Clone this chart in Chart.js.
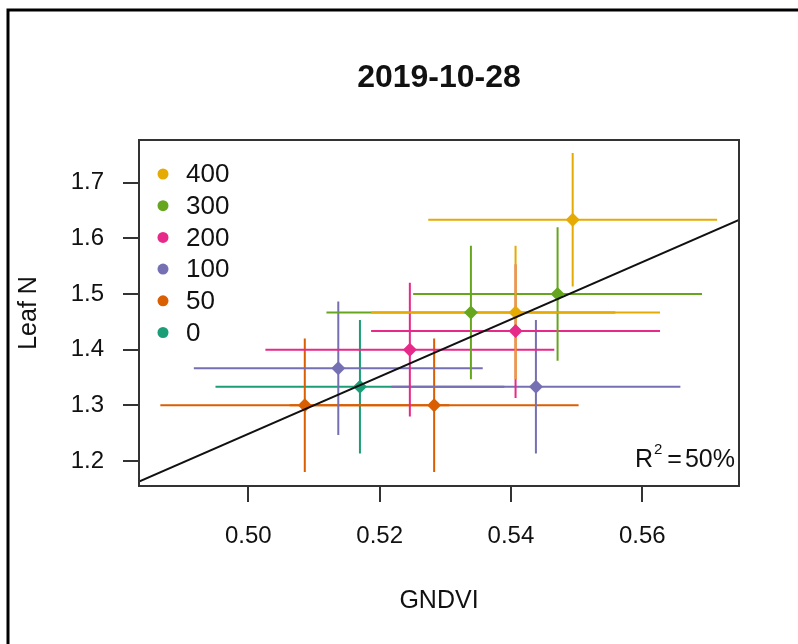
<!DOCTYPE html>
<html>
<head>
<meta charset="utf-8">
<script src="https://cdn.jsdelivr.net/npm/chart.js@4/dist/chart.umd.min.js"></script>
<style>
  body { margin: 0; background: #fff; }
  canvas { display: block; }
</style>
</head>
<body>
<canvas id="leafN" width="798" height="644"></canvas>
<script>
// nitrogen rate groups, in legend order (top to bottom)
var rates = ['400', '300', '200', '100', '50', '0'];
var colours = ['#E6AB02', '#66A61E', '#E7298A', '#7570B3', '#D95F02', '#1B9E77'];

// plot means per rate (GNDVI on x, leaf N on y)
var gndvi = [
  [0.5494, 0.5407],
  [0.5471, 0.5339],
  [0.5407, 0.5246],
  [0.5438, 0.5137],
  [0.5283, 0.5086],
  [0.5170]
];
var leafN = [
  [1.6333, 1.4667],
  [1.5000, 1.4667],
  [1.4333, 1.4000],
  [1.3333, 1.3667],
  [1.3000, 1.3000],
  [1.3333]
];
// half widths of the error bars
var gndviErr = [
  [0.022, 0.022],
  [0.022, 0.022],
  [0.022, 0.022],
  [0.022, 0.022],
  [0.022, 0.022],
  [0.022]
];
var leafNErr = [
  [0.12, 0.12],
  [0.12, 0.12],
  [0.12, 0.12],
  [0.12, 0.12],
  [0.12, 0.12],
  [0.12]
];

// fitted line, drawn across the whole x range
var fitX = [0.48335, 0.57473];
var fitY = [1.1628, 1.6330];
var r2Text = '50%';

var xTicks = [0.50, 0.52, 0.54, 0.56];
var yTicks = [1.2, 1.3, 1.4, 1.5, 1.6, 1.7];
var xRange = [0.48335, 0.57473];
var yRange = [1.155, 1.7767];

var FONT = '"Liberation Sans", Arial, sans-serif';
var INK = '#111';

var datasets = [{
  type: 'line',
  data: fitX.map(function (x, i) { return { x: x, y: fitY[i] }; }),
  borderColor: '#111',
  borderWidth: 2,
  pointRadius: 0,
  fill: false
}];
rates.forEach(function (r, g) {
  datasets.push({
    label: r,
    data: gndvi[g].map(function (x, i) { return { x: x, y: leafN[g][i] }; }),
    backgroundColor: colours[g],
    borderColor: colours[g],
    pointStyle: 'rectRot',
    pointRadius: 7,
    pointBorderWidth: 0
  });
});

// error bars go under the points, lowest rate first
var errorBars = {
  id: 'errorBars',
  beforeDatasetsDraw: function (chart) {
    var ctx = chart.ctx, xs = chart.scales.x, ys = chart.scales.y;
    var a = chart.chartArea;
    ctx.save();
    ctx.beginPath();
    ctx.rect(a.left, a.top, a.right - a.left, a.bottom - a.top);
    ctx.clip();
    ctx.lineWidth = 2;
    for (var g = rates.length - 1; g >= 0; g--) {
      ctx.strokeStyle = colours[g];
      for (var i = 0; i < gndvi[g].length; i++) {
        var x = gndvi[g][i], y = leafN[g][i];
        var px = xs.getPixelForValue(x), py = ys.getPixelForValue(y);
        ctx.beginPath();
        ctx.moveTo(xs.getPixelForValue(x - gndviErr[g][i]), py);
        ctx.lineTo(xs.getPixelForValue(x + gndviErr[g][i]), py);
        ctx.moveTo(px, ys.getPixelForValue(y - leafNErr[g][i]));
        ctx.lineTo(px, ys.getPixelForValue(y + leafNErr[g][i]));
        ctx.stroke();
      }
    }
    ctx.restore();
  }
};

// title, box, legend, R2 note and the outer frame
var decorations = {
  id: 'decorations',
  afterDraw: function (chart) {
    var ctx = chart.ctx, a = chart.chartArea;
    ctx.save();

    ctx.strokeStyle = '#000';
    ctx.lineWidth = 3;
    ctx.beginPath();
    ctx.moveTo(8, chart.height);
    ctx.lineTo(8, 10);
    ctx.lineTo(chart.width, 10);
    ctx.stroke();

    ctx.strokeStyle = '#333';
    ctx.lineWidth = 2;
    ctx.strokeRect(a.left, a.top, a.right - a.left, a.bottom - a.top);

    ctx.fillStyle = INK;
    ctx.font = 'bold 32px ' + FONT;
    ctx.textAlign = 'center';
    ctx.textBaseline = 'middle';
    ctx.fillText('2019-10-28', (a.left + a.right) / 2, 78);

    ctx.font = '26px ' + FONT;
    ctx.textAlign = 'left';
    rates.forEach(function (r, g) {
      var y = 174 + g * 31.7;
      ctx.fillStyle = colours[g];
      ctx.beginPath();
      ctx.arc(163, y, 5.5, 0, Math.PI * 2);
      ctx.fill();
      ctx.fillStyle = INK;
      ctx.fillText(r, 186, y + 1);
    });

    // R² = 50%, right aligned against the box
    ctx.textBaseline = 'alphabetic';
    ctx.textAlign = 'right';
    ctx.font = '25px ' + FONT;
    var rx = 735, by = 467;
    ctx.fillText(r2Text, rx, by);
    rx -= ctx.measureText(r2Text).width + 3;
    ctx.fillText('=', rx, by);
    rx -= ctx.measureText('=').width + 5;
    ctx.font = '15px ' + FONT;
    ctx.fillText('2', rx, by - 13);
    rx -= ctx.measureText('2').width + 1;
    ctx.font = '25px ' + FONT;
    ctx.fillText('R', rx, by);

    ctx.restore();
  }
};

new Chart(document.getElementById('leafN'), {
  type: 'scatter',
  data: { datasets: datasets },
  options: {
    responsive: false,
    animation: false,
    events: [],
    layout: { padding: { left: 0, top: 140, right: 59, bottom: 0 } },
    plugins: { legend: { display: false }, tooltip: { enabled: false } },
    scales: {
      x: {
        type: 'linear',
        min: xRange[0],
        max: xRange[1],
        afterBuildTicks: function (s) { s.ticks = xTicks.map(function (v) { return { value: v }; }); },
        afterFit: function (s) { s.height = 158; },
        ticks: {
          padding: 20,
          color: INK,
          font: { family: FONT, size: 24 },
          callback: function (v) { return v.toFixed(2); }
        },
        grid: { drawOnChartArea: false, tickLength: 16, color: '#333', lineWidth: 2 },
        border: { color: '#333', width: 2 },
        title: {
          display: true,
          text: 'GNDVI',
          color: INK,
          font: { family: FONT, size: 25 },
          padding: { top: 0, bottom: 28 }
        }
      },
      y: {
        type: 'linear',
        min: yRange[0],
        max: yRange[1],
        afterBuildTicks: function (s) { s.ticks = yTicks.map(function (v) { return { value: v }; }); },
        afterFit: function (s) { s.width = 139; },
        ticks: {
          padding: 19,
          color: INK,
          font: { family: FONT, size: 24 },
          callback: function (v) { return v.toFixed(1); }
        },
        grid: { drawOnChartArea: false, tickLength: 16, color: '#333', lineWidth: 2 },
        border: { color: '#333', width: 2 },
        title: {
          display: true,
          text: 'Leaf N',
          color: INK,
          font: { family: FONT, size: 25 },
          padding: { top: 14, bottom: 0 }
        }
      }
    }
  },
  plugins: [errorBars, decorations]
});
</script>
</body>
</html>
